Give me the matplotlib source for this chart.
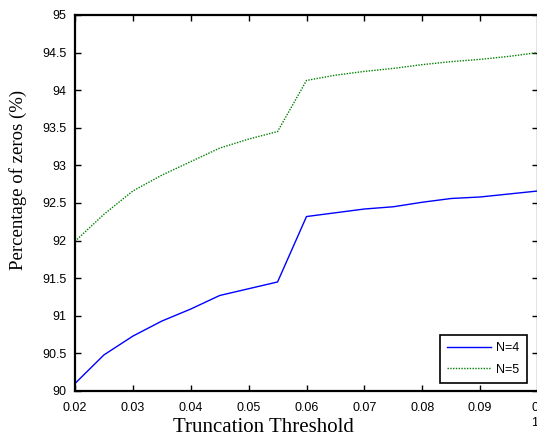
import matplotlib
matplotlib.use('Agg')
import matplotlib.pyplot as plt

thresholds = [0.02, 0.025, 0.03, 0.035, 0.04, 0.045, 0.05, 0.055, 0.06,
              0.065, 0.07, 0.075, 0.08, 0.085, 0.09, 0.095, 0.1]
n4 = [90.10, 90.48, 90.73, 90.93, 91.09, 91.27, 91.36, 91.45, 92.32,
      92.37, 92.42, 92.45, 92.51, 92.56, 92.58, 92.62, 92.66]
n5 = [91.99, 92.35, 92.66, 92.87, 93.05, 93.23, 93.35, 93.45, 94.13,
      94.20, 94.25, 94.29, 94.34, 94.38, 94.41, 94.45, 94.50]

xticks = [0.02, 0.03, 0.04, 0.05, 0.06, 0.07, 0.08, 0.09, 0.1]
xticklabels = ['0.02', '0.03', '0.04', '0.05', '0.06', '0.07', '0.08', '0.09', '0\n1']
yticks = [90, 90.5, 91, 91.5, 92, 92.5, 93, 93.5, 94, 94.5, 95]
yticklabels = ['90', '90.5', '91', '91.5', '92', '92.5', '93', '93.5', '94', '94.5', '95']

fig = plt.figure(figsize=(5.37, 4.36), dpi=100)
ax = fig.add_axes([75 / 537, 45 / 436, 463 / 537, 376 / 436])

ax.plot(thresholds, n4, color='#0000ff', lw=1.0, label='N=4')
ax.plot(thresholds, n5, color='#008000', lw=1.0, ls=(0, (1, 1)), label='N=5')

ax.set_xlim(0.02, 0.1)
ax.set_ylim(90, 95)
ax.set_xticks(xticks)
ax.set_xticklabels(xticklabels, fontfamily='Liberation Sans', fontsize=9, linespacing=1.3)
ax.get_xticklabels()[-1].set_horizontalalignment('right')
ax.set_yticks(yticks)
ax.set_yticklabels(yticklabels, fontfamily='Liberation Sans', fontsize=9)
ax.tick_params(direction='in', top=True, right=True, length=4, width=1)
ax.tick_params(axis='x', pad=8)
ax.tick_params(axis='y', pad=6)

for s in ax.spines.values():
    s.set_linewidth(1.6)

# labels sit off-centre in the original (axes was wider than the export)
ax.set_xlabel('Truncation Threshold', fontfamily='Liberation Serif', fontsize=15)
ax.xaxis.set_label_coords(0.406, -0.071)
ax.set_ylabel('Percentage of zeros (%)', fontfamily='Liberation Serif', fontsize=13.5)
ax.yaxis.set_label_coords(-0.104, 0.561)

leg = ax.legend(loc='lower right', bbox_to_anchor=(0.976, 0.021), borderaxespad=0,
                fancybox=False, edgecolor='black', handlelength=3.5,
                prop={'family': 'Liberation Sans', 'size': 9},
                borderpad=0.6, labelspacing=0.75, handletextpad=0.4, framealpha=1)
leg.get_frame().set_linewidth(1.2)

fig.savefig('out.png', dpi=100)
